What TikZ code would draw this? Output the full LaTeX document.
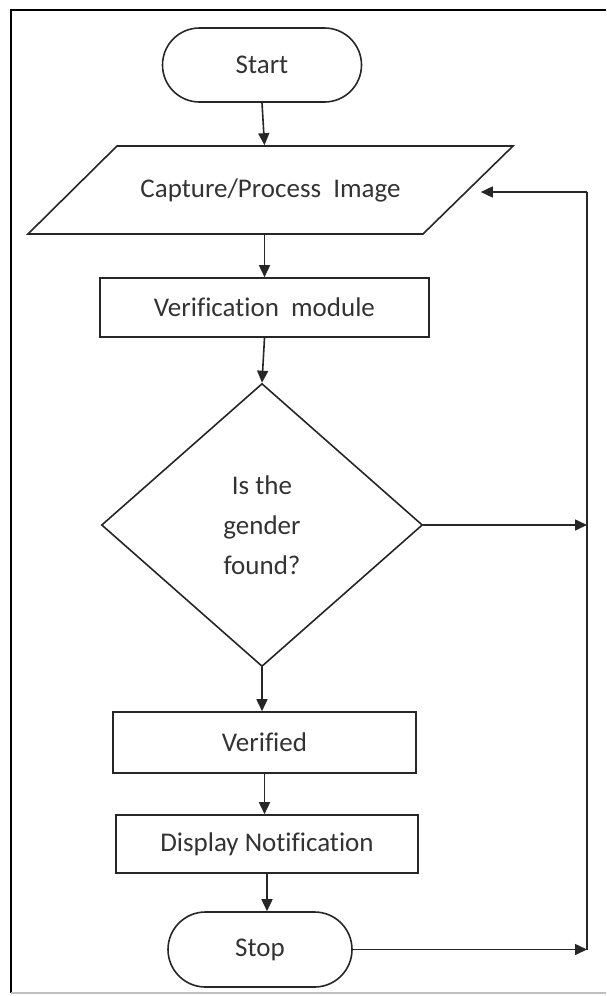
\documentclass[tikz,border=0pt]{standalone}
\usepackage{fontspec}
\setmainfont{Carlito}[Ligatures=NoCommon]
\usetikzlibrary{arrows.meta,shapes.geometric,shapes.misc}
\tikzset{
  base/.style={draw=black!85, line width=1.6pt, inner sep=0pt, text=black!80,
    font=\fontsize{27}{40}\selectfont, align=center},
  term/.style={base, rounded rectangle},
  procbox/.style={base, rectangle},
  iotext/.style={base, draw=none, rectangle},
  decide/.style={base, diamond},
  arr/.style={draw=black!85, line width=1.6pt, -{Triangle[length=12pt,width=11pt]}},
  wire/.style={draw=black!85, line width=1.6pt},
}
\begin{document}
\begin{tikzpicture}[x=1pt,y=-1pt]
\useasboundingbox (0,0) rectangle (606,996);
% frame
\draw[black, line width=2.4pt] (606,10) -- (11,10) -- (11,993);
\draw[black!25, line width=1.2pt] (11,993) -- (606,993);

\node[term, minimum width=199pt, minimum height=74pt] (start) at (262,65) {Start};
% input/output parallelogram
\node[iotext, minimum width=393pt, minimum height=88pt] (cap) at (270.5,190) {Capture/Process\ \ Image};
\draw[wire, line join=miter] (117,146) -- (513,146) -- (423,234) -- (28,234) -- cycle;
\node[procbox, minimum width=329pt, minimum height=59pt] (vm) at (264.5,307.5) {Verification\ \ module};
\node[decide, minimum width=321pt, minimum height=283pt] (dia) at (262,525) {Is the\\gender\\found?};
\node[procbox, minimum width=303pt, minimum height=61pt] (ver) at (264.5,742.5) {Verified};
\node[procbox, minimum width=302pt, minimum height=58pt] (disp) at (267,844) {Display Notification};
\node[term, minimum width=184pt, minimum height=75pt] (stop) at (260,949.5) {Stop};

\coordinate (railtop) at (587,192);
\coordinate (railmid) at (587,525);
\coordinate (railbot) at (587,949.5);

\draw[arr] (start.south) -- (cap.north -| vm.north);
\draw[arr] (cap.south -| vm.north) -- (vm.north);
\draw[arr] (vm.south) -- (dia.north);
\draw[arr] (dia.south) -- (dia.south |- ver.north);
\draw[arr] (ver.south) -- (ver.south |- disp.north);
\draw[arr] (disp.south) -- (disp.south |- stop.north);

\draw[arr] (dia.east) -- (railmid);
\draw[arr] (stop.east) -- (railbot);
\draw[wire] (railbot) -- (railtop);
\draw[arr] (railtop) -- ([xshift=13pt]cap.east |- railtop);
\end{tikzpicture}
\end{document}
